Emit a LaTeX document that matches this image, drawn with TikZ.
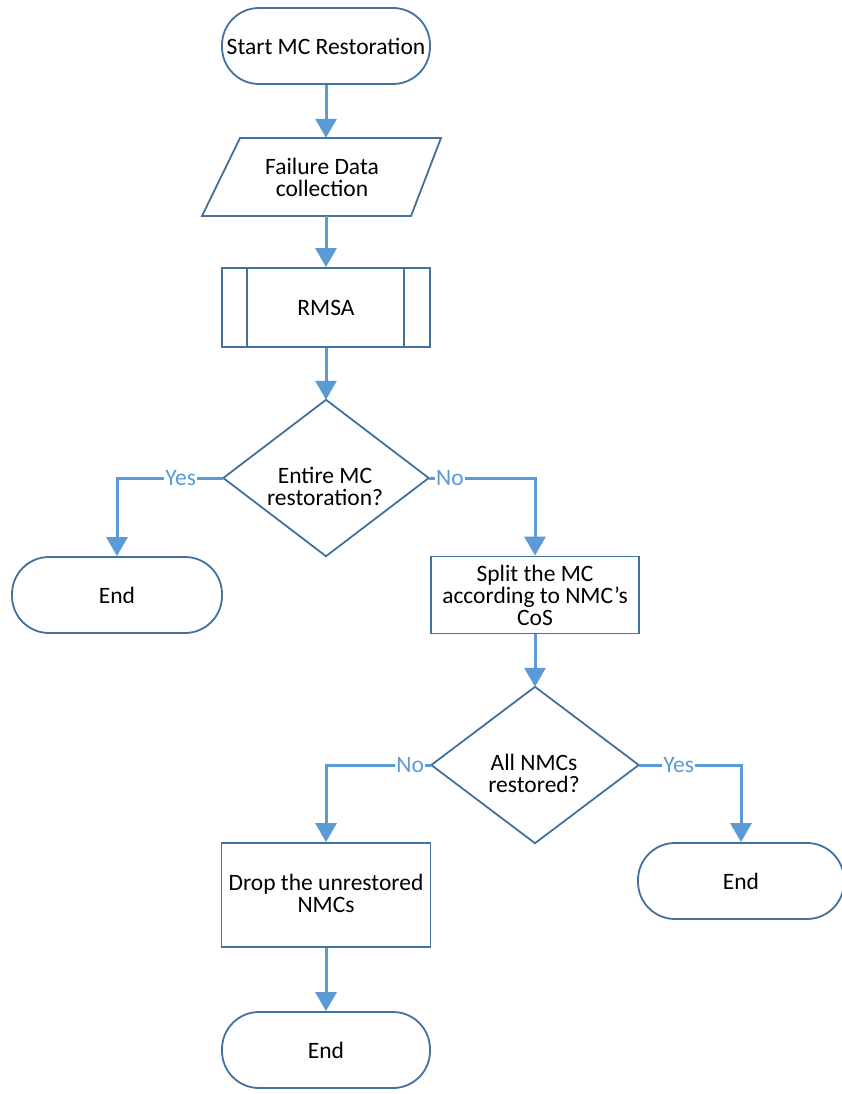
\documentclass[tikz,border=0pt]{standalone}
\usepackage{fontspec}
\setmainfont{Carlito}
\usetikzlibrary{arrows.meta,calc}
\definecolor{shapeblue}{HTML}{41719C}
\definecolor{arrowblue}{HTML}{5B9BD5}
\begin{document}
\begin{tikzpicture}[x=1pt,y=-1pt,
  every node/.style={font=\fontsize{23.5}{22}\selectfont, align=center, text=black},
  term/.style={draw=shapeblue, line width=1.8pt, fill=white, rounded corners=37pt, minimum height=76pt, inner sep=0pt},
  procbox/.style={draw=shapeblue, line width=1.8pt, fill=white, minimum width=208pt, inner sep=0pt},
  plain/.style={inner sep=0pt},
  outline/.style={draw=shapeblue, line width=1.8pt},
  arr/.style={draw=arrowblue, line width=3pt, -{Triangle[width=21pt,length=19pt]}},
  lbl/.style={fill=white, text=arrowblue, inner sep=1pt}
]
\useasboundingbox (0,0) rectangle (842,1094);

% Start
\node[term, minimum width=208pt] (start) at (326,46) {Start MC Restoration};

% Failure data (parallelogram)
\node[plain, minimum width=200pt, minimum height=78pt] (data) at (326,177) {};
\draw[outline, fill=white] (240,138) -- (441,138) -- (411,216) -- (202,216) -- cycle;
\node at (322,177) {Failure Data\\collection};

% RMSA (predefined process)
\node[procbox, minimum height=79pt] (rmsa) at (326,307.5) {RMSA};
\draw[outline] ($(rmsa.north)+(-79,0)$) -- ($(rmsa.south)+(-79,0)$);
\draw[outline] ($(rmsa.north)+(78,0)$) -- ($(rmsa.south)+(78,0)$);

% Decision 1
\node[plain, minimum width=205pt, minimum height=156pt] (dec1) at (326,478) {};
\draw[outline, fill=white] (dec1.north) -- (dec1.east) -- (dec1.south) -- (dec1.west) -- cycle;
\node at (325,486) {Entire MC\\restoration?};

% End left
\node[term, minimum width=210pt] (endl) at (117,595) {End};

% Split box
\node[procbox, minimum height=77pt] (split) at (535,595) {Split the MC\\according to NMC’s\\CoS};

% Decision 2
\node[plain, minimum width=207pt, minimum height=156pt] (dec2) at (535,765) {};
\draw[outline, fill=white] (dec2.north) -- (dec2.east) -- (dec2.south) -- (dec2.west) -- cycle;
\node at (534,773) {All NMCs\\restored?};

% End right
\node[term, minimum width=206pt] (endr) at (741,881) {End};

% Drop box
\node[procbox, minimum width=209pt, minimum height=104pt] (drop) at (326,895) {};
\node at (326,893) {Drop the unrestored\\NMCs};

% End bottom
\node[term, minimum width=208pt] (endb) at (326,1050) {End};

% Connectors
\draw[arr] (start.south) -- (data.north);
\draw[arr] (data.south) -- (rmsa.north);
\draw[arr] (rmsa.south) -- (dec1.north);
\draw[arr] (dec1.west) -| node[lbl, pos=0.2] {Yes} (endl.north);
\draw[arr] (dec1.east) -| node[lbl, pos=0.1] {No} (split.north);
\draw[arr] (split.south) -- (dec2.north);
\draw[arr] (dec2.west) -| node[lbl, pos=0.1] {No} (drop.north);
\draw[arr] (dec2.east) -| node[lbl, pos=0.195] {Yes} (endr.north);
\draw[arr] (drop.south) -- (endb.north);
\end{tikzpicture}
\end{document}
